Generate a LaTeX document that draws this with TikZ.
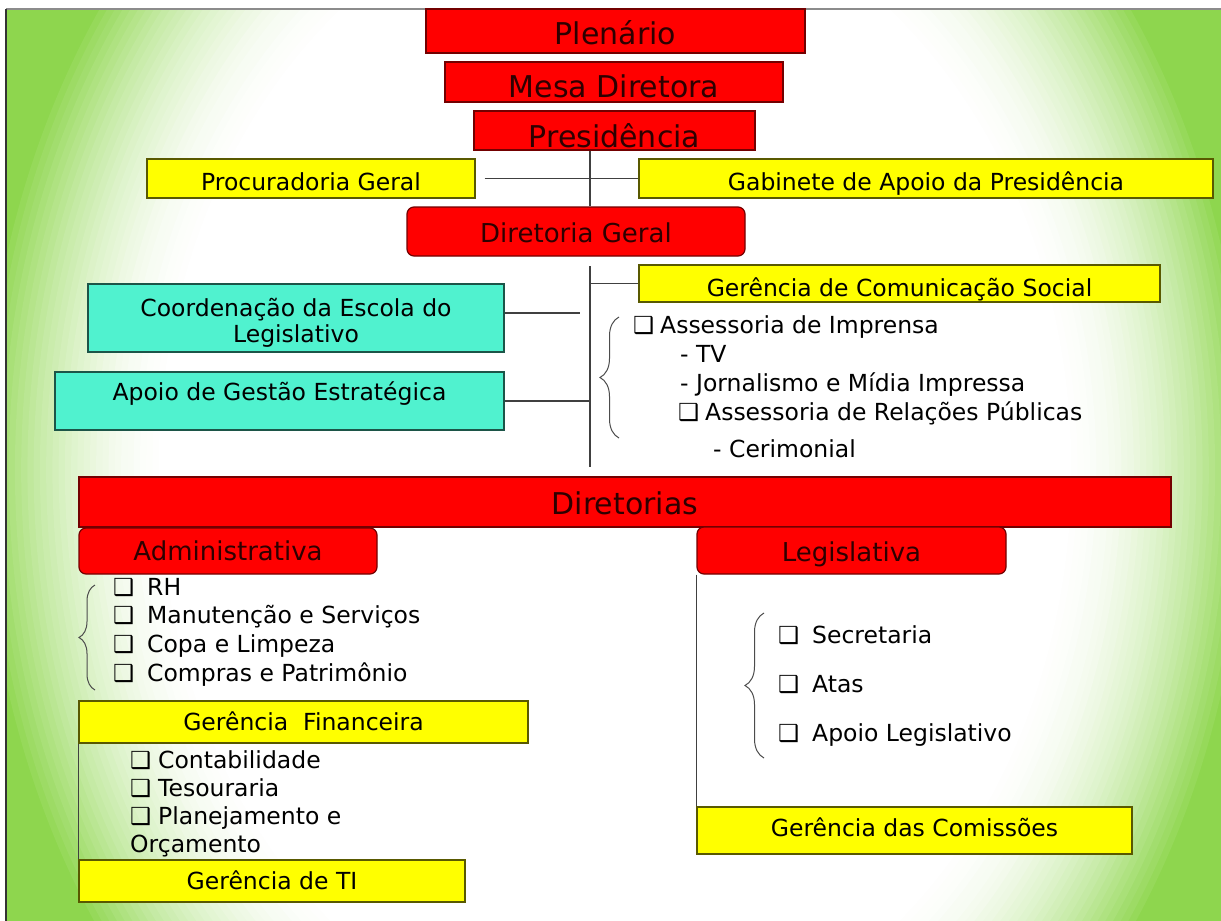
\documentclass[tikz,border=0pt]{standalone}
\usepackage{fontspec}
\setmainfont{DejaVu Sans}
\usepackage{tikz}
\usetikzlibrary{positioning,decorations.pathreplacing}
\definecolor{boxred}{HTML}{FF0000}
\definecolor{boxyellow}{HTML}{FFFF00}
\definecolor{boxteal}{HTML}{50F2CF}
\definecolor{redink}{HTML}{2E0000}
\definecolor{bggreen}{HTML}{8ED64E}
\tikzset{
  org/.style={rectangle, line width=1.2pt, inner xsep=0pt, inner ysep=0pt,
    minimum width=#1, align=center},
  titlebox/.style={org=#1, fill=boxred, draw=boxred!45!black, text=redink,
    font=\fontsize{30}{36}\selectfont},
  unitbox/.style={org=#1, fill=boxred, draw=boxred!45!black, rounded corners=7pt,
    text=redink, font=\fontsize{26}{31}\selectfont},
  sectbox/.style={org=#1, fill=boxyellow, draw=boxyellow!35!black,
    font=\fontsize{23.5}{26}\selectfont},
  aidbox/.style={org=#1, fill=boxteal, draw=boxteal!35!black,
    font=\fontsize{23.5}{26}\selectfont},
  tb/.style 2 args={text height=#1, text depth=#2},
  link/.style={draw=black!75, line width=1.3pt},
  curly/.style={draw=black!70, line width=1pt, decorate,
    decoration={brace, amplitude=#1}},
  items/.style={anchor=north west, inner sep=0pt, align=left,
    font=\fontsize{23.5}{#1}\selectfont},
}
\newcommand{\ckb}[1]{\makebox[#1][l]{❑}}

\begin{document}
\begin{tikzpicture}[x=1pt, y=-1pt]
    \useasboundingbox (0,0) rectangle (1221,921);
    \fill[white] (0,0) rectangle (1221,921);
    \begin{scope}
      \clip (6,9) rectangle (1221,921);
      \fill[bggreen] (6,9) rectangle (1221,921);
      \coordinate (glow) at (615,470);
      \foreach \i in {0,...,50} {
        \pgfmathsetmacro{\rr}{1.20-\i*0.01}
        \pgfmathtruncatemacro{\pp}{100*(min(1,max(0,(\rr-0.70)/0.32)))^2}
        \fill[bggreen!\pp!white] (glow) ellipse [x radius=\rr*625pt, y radius=\rr*790pt];
      }
    \end{scope}
    \draw[black!45, line width=1.2pt] (6,9) -- (1221,9);
    \draw[black!80, line width=1.5pt] (6,9) -- (6,921);

    \node[titlebox=379pt, tb={35pt}{9pt}] (plen) at (615.5,31) {Plenário};
    \node[titlebox=338pt, tb={35pt}{5pt}] (mesa) at (614,82) {Mesa Diretora};
    \node[titlebox=281pt, tb={36pt}{3pt}] (pres) at (614.5,130.5) {Presidência};
    \node[sectbox=328pt, tb={31pt}{8pt}] (proc) at (311,178.5) {Procuradoria Geral};
    \node[sectbox=574pt, tb={31pt}{8pt}] (gab) at (926,178.5) {Gabinete de Apoio da Presidência};
    \node[unitbox=338pt, tb={35pt}{14pt}] (dg) at (576,231.5) {Diretoria Geral};
    \node[sectbox=521pt, tb={31pt}{6pt}] (gcs) at (899.5,283.5) {Gerência de Comunicação Social};
    \node[aidbox=416pt, minimum height=68pt] (coord) at (296,318) {\rule{0pt}{28pt}Coordenação da Escola do\\ Legislativo};
    \node[aidbox=449pt, tb={28pt}{30pt}] (apoio) at (279.5,401) {Apoio de Gestão Estratégica};
    \node[titlebox=1092pt, tb={37pt}{13pt}] (dirs) at (625,502) {Diretorias};
    \node[unitbox=298pt, tb={32pt}{14pt}] (adm) at (228,551) {Administrativa};
    \node[unitbox=309pt, tb={34pt}{13pt}] (leg) at (851.5,550.5) {Legislativa};
    \node[sectbox=449pt, tb={29pt}{13pt}] (fin) at (303.5,722) {Gerência\ \ Financeira};
    \node[sectbox=386pt, tb={29pt}{13pt}] (ti) at (272,881) {Gerência de TI};
    \node[sectbox=435pt, tb={29pt}{18pt}] (com) at (914.5,830.5) {Gerência das Comissões};

    \node[items=29pt] (gcsl) at (633,315) {\ckb{27pt}Assessoria de Imprensa\\
      \hspace*{47pt}- TV\\
      \hspace*{47pt}- Jornalismo e Mídia Impressa\\
      \hspace*{45pt}\ckb{27pt}Assessoria de Relações Públicas\\[8pt]
      \hspace*{80pt}- Cerimonial};
    \node[items=28.6pt] (adml) at (113,578) {\ckb{34pt}RH\\ \ckb{34pt}Manutenção e Serviços\\
      \ckb{34pt}Copa e Limpeza\\ \ckb{34pt}Compras e Patrimônio};
    \node[items=28pt] (finl) at (130,750) {\ckb{28pt}Contabilidade\\ \ckb{28pt}Tesouraria\\
      \ckb{28pt}Planejamento e\\ Orçamento};
    \node[items=49pt] (legl) at (778,625) {\ckb{34pt}Secretaria\\ \ckb{34pt}Atas\\
      \ckb{34pt}Apoio Legislativo};

    \coordinate (sptop) at (590,266);
    \coordinate (spbot) at (590,467);

    \draw[link] (pres.south -| sptop) -- (dg.north -| sptop);
    \draw[link, shorten <=9pt] (proc) -- (gab);
    \draw[link] (sptop) -- (spbot);
    \draw[link] (sptop |- gcs.west) -- (gcs.west);
    \draw[link, shorten >=10pt] ([yshift=5pt]coord.east) -- ([yshift=5pt]coord.east -| sptop);
    \draw[link] (apoio.east) -- (apoio.east -| sptop);
    \draw[link] (leg.south west) -- (com.north west);
    \draw[link] (fin.south west) -- (ti.north west);

    \draw[curly=19pt] (619,438) -- (619,317);
    \draw[curly=16pt] (95,690) -- (95,585);
    \draw[curly=19pt] (764,758) -- (764,613);
  \end{tikzpicture}
\end{document}
